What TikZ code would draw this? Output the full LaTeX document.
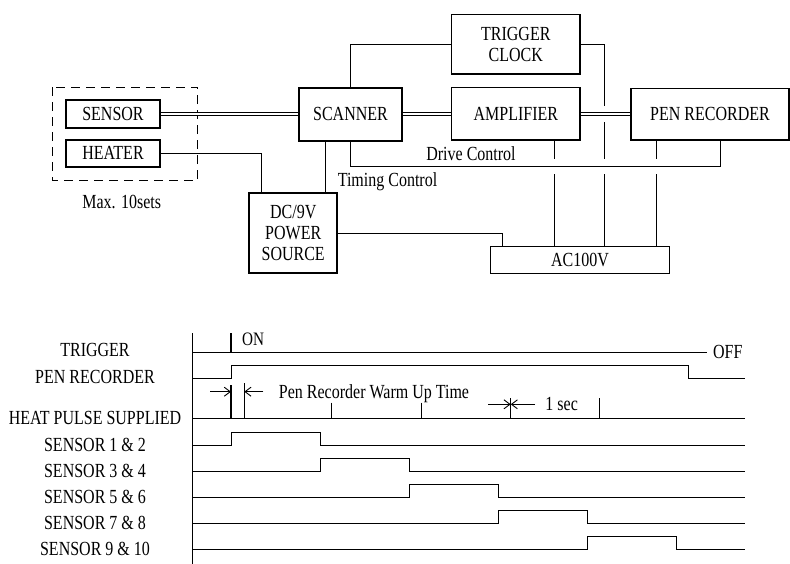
\documentclass[tikz,border=0pt]{standalone}
\usepackage{fontspec}
\setmainfont{Liberation Serif}[FakeStretch=0.8]
\usetikzlibrary{arrows.meta}
\tikzset{
  blk/.style={draw,line width=1.5pt,inner sep=0pt,align=center},
  bus/.style={line width=0.9pt,double,double distance=2pt},
  gap/.style={draw=white,line width=#1,shorten <=2pt,shorten >=2pt},
  lbl/.style={inner sep=6pt},
}
\begin{document}
\begin{tikzpicture}[x=1pt,y=-1pt,font=\fontsize{20}{21}\selectfont,line width=0.9pt,>={Straight Barb[length=6pt,width=9pt]}]
\useasboundingbox (0,0) rectangle (790,564);
% block diagram
\draw[line width=1.2pt,dash pattern=on 9pt off 6pt] (52.7,87.3) rectangle (197.7,180.7);
\node[blk,line width=2.2pt,minimum width=94pt,minimum height=27.7pt] (sensor) at (113,113.8) {SENSOR};
\node[blk,line width=2.2pt,minimum width=94pt,minimum height=26.7pt] (heater) at (113,153.3) {HEATER};
\node[blk,line width=1.8pt,minimum width=102.4pt,minimum height=53.3pt] (scanner) at (350.5,114.3) {SCANNER};
\node[blk,line width=1.8pt,minimum width=88.3pt,minimum height=80pt] (dcsrc) at (293.2,233.3) {DC/9V\\POWER\\SOURCE};
\node[blk,minimum width=128.3pt,minimum height=59.7pt] (trigclk) at (515.8,44.2) {TRIGGER\\CLOCK};
\node[blk,minimum width=128.3pt,minimum height=52.7pt] (amp) at (515.8,113.7) {AMPLIFIER};
\node[blk,minimum width=158pt,minimum height=51.7pt] (penrec) at (710,114.2) {PEN RECORDER};
\node[blk,line width=1pt,minimum width=178.6pt,minimum height=27.3pt] (ac) at (580,259.7) {AC100V};
\coordinate (xh) at (261.7,0); \coordinate (xs) at (325,0); \coordinate (xq) at (502.7,0);
\coordinate (xa) at (554,0); \coordinate (xt) at (604.3,0); \coordinate (xp) at (656.7,0);
\coordinate (dctl) at (720,166.7);
\draw (heater.east) -| (xh |- dcsrc.north);
\draw (xs |- scanner.south) -- (xs |- dcsrc.north);
\draw (scanner.north) |- (trigclk.west);
\draw (dcsrc.east) -| (xq |- ac.north);
\draw (xa |- amp.south) -- (xa |- ac.north);
\draw (xp |- penrec.south) -- (xp |- ac.north);
\draw (trigclk.east) -| (xt |- ac.north);
% gaps where lines cross
\draw[gap=16pt] (amp.east) -- (amp.east -| penrec.west);
\draw[gap=15pt] (scanner.south |- dctl) -- (dctl);
\draw[bus] (sensor.east) -- (sensor.east -| scanner.west);
\draw[bus] (scanner.east) -- (scanner.east -| amp.west);
\draw[bus] (amp.east) -- (amp.east -| penrec.west);
\draw (scanner.south) |- (dctl) -- (dctl |- penrec.south);
\node (maxsets) at (121.7,201.7) {Max. 10sets};
\node (drvctl) at (471,154) {Drive Control};
\node (tmgctl) at (387.5,181.7) {Timing Control};
% timing chart
\draw (192.7,333.3) -- (192.7,564);
\node (ltrig) at (95,350) {TRIGGER};
\node (lpen) at (95,376.7) {PEN RECORDER};
\node (lheat) at (95,418.3) {HEAT PULSE SUPPLIED};
\draw (192.7,352.3) -- (706.7,352.3) node[right,lbl] (off) {OFF};
\draw[line width=1.4pt] (231,333.3) -- (231,352.3); \node[font=\fontsize{19}{20}\selectfont] (on) at (253,339.3) {ON};
\draw (192.7,378.3) -- (231,378.3) -- (231,365.7) -- (688.3,365.7) -- (688.3,378.3) -- (745,378.3);
\draw (192.7,418.3) -- (745,418.3);
\foreach \x/\y in {231/385,244.3/383,331.7/402.7,421.7/402.7,510.7/398,599.3/398} \draw[line width=1.4pt] (\x,\y) -- (\x,418.3);
\draw[->] (210,391.7) -- (231,391.7); \draw[->] (263.3,391.7) -- (244.3,391.7);
\node (warm) at (374,393.3) {Pen Recorder Warm Up Time};
\draw[->] (488.3,404.3) -- (510.7,404.3); \draw[->] (535,404.3) -- (510.7,404.3);
\node (onesec) at (561.7,404.3) {1 sec};
\foreach \n/\txt in {0/1 \& 2,1/3 \& 4,2/5 \& 6,3/7 \& 8,4/9 \& 10}{
  \pgfmathsetmacro\yl{445+26.1*\n} \pgfmathsetmacro\xr{231+89.1*\n} \pgfmathsetmacro\xf{\xr+89.1}
  \node (s\n) at (95,\yl) {SENSOR \txt};
  \draw (192.7,\yl) -- (\xr,\yl) -- (\xr,\yl-13) -- (\xf,\yl-13) -- (\xf,\yl) -- (745,\yl);
}
\end{tikzpicture}
\end{document}
